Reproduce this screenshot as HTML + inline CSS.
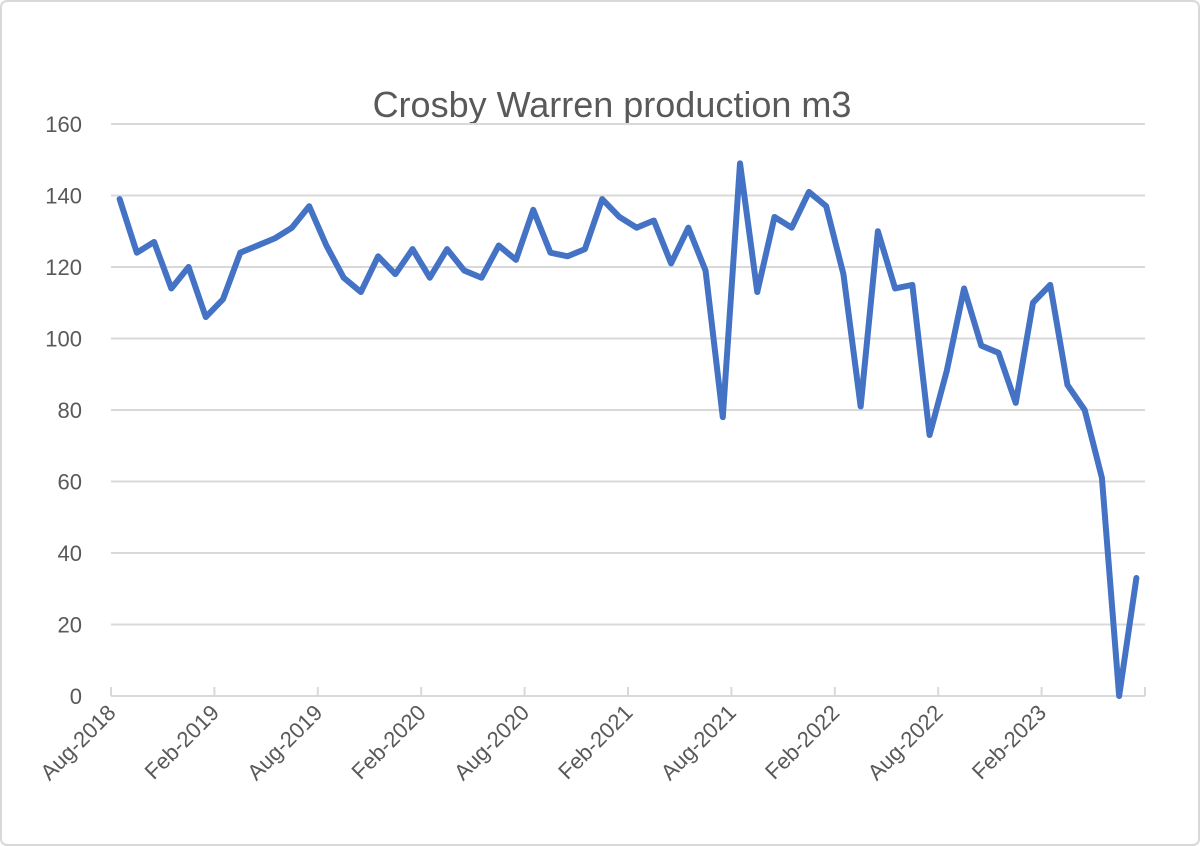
<!DOCTYPE html>
<html><head><meta charset="utf-8"><style>
body{margin:0;background:#fff}
svg{display:block;font-family:"Liberation Sans",sans-serif}
</style></head><body>
<svg id="chart" width="1200" height="846" viewBox="0 0 1200 846">
<rect x="1" y="1" width="1198" height="844" rx="6" fill="#fff" stroke="#d9d9d9" stroke-width="2"/>
<text x="612" y="117" text-anchor="middle" font-size="36" fill="#595959">Crosby Warren production m3</text>
<g id="grid"></g><g id="yt"></g><g id="xt"></g><g id="ser"></g>
</svg>
<script>
const values=[139,124,127,114,120,106,111,124,126,128,131,137,126,117,113,123,118,125,117,125,119,117,126,122,136,124,123,125,139,134,131,133,121,131,119,78,149,113,134,131,141,137,118,81,130,114,115,73,91,114,98,96,82,110,115,87,80,61,0,33];
const yTicks=[0,20,40,60,80,100,120,140,160];
const xLabels=["Aug-2018","Feb-2019","Aug-2019","Feb-2020","Aug-2020","Feb-2021","Aug-2021","Feb-2022","Aug-2022","Feb-2023"];
const NS="http://www.w3.org/2000/svg";
const x0=111,x1=1145,y0=696,y1=124;
const n=values.length,cw=(x1-x0)/n;
const ys=v=>y0-(v/160)*(y0-y1);
const xs=i=>x0+cw*(i+0.5);
function mk(t,a,p){const e=document.createElementNS(NS,t);for(const k in a)e.setAttribute(k,a[k]);p.appendChild(e);return e;}
const grid=document.getElementById('grid'),yt=document.getElementById('yt'),xt=document.getElementById('xt'),ser=document.getElementById('ser');
yTicks.forEach(v=>{
 if(v>0){const l=mk('line',{x1:x0,x2:x1,y1:ys(v),y2:ys(v),stroke:'#d9d9d9','stroke-width':2},grid);
 
 }
 const t=mk('text',{x:82,y:ys(v)+8,'text-anchor':'end','font-size':22,fill:'#595959'},yt);
 t.textContent=v;
 
 
});
const ax=mk('line',{x1:x0,x2:x1,y1:y0,y2:y0,stroke:'#d9d9d9','stroke-width':2},grid);


for(let i=0;i<=n;i+=6){const xx=Math.min(x0+cw*i,x1);const tk=mk('line',{x1:xx,x2:xx,y1:y0,y2:y0-9,stroke:'#d9d9d9','stroke-width':2},grid);
 
 }
xLabels.forEach((s,k)=>{
 const x=x0+cw*6*k+6,y=y0+18;
 const t=mk('text',{x:x,y:y,'text-anchor':'end','font-size':22,fill:'#595959',transform:`rotate(-45 ${x} ${y})`},xt);
 t.textContent=s;
 
 
});
const p=mk('polyline',{points:values.map((v,i)=>xs(i)+','+ys(v)).join(' '),fill:'none',stroke:'#4472c4','stroke-width':6,'stroke-linejoin':'round','stroke-linecap':'round'},ser);


</script>
</body></html>
